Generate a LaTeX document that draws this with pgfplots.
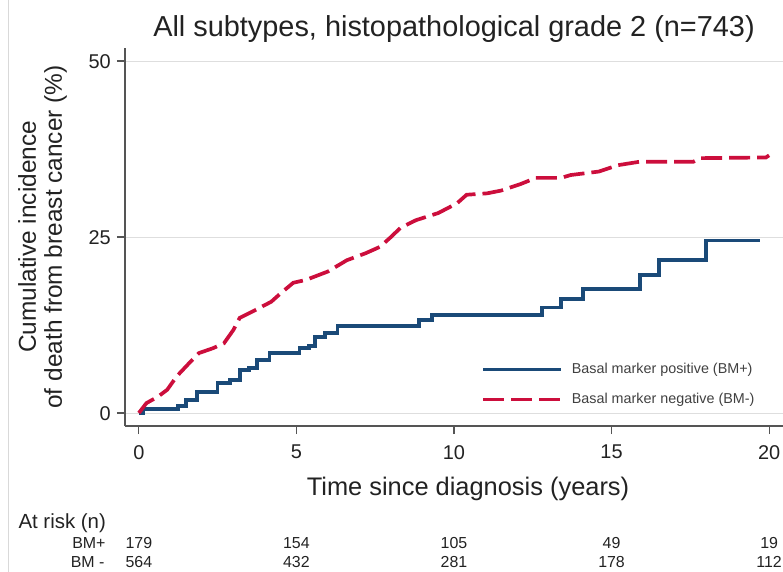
\documentclass[border=0pt]{standalone}
\usepackage{pgfplots}
\pgfplotsset{compat=1.18}
\usepackage{fontspec}
\setmainfont{Liberation Sans}
\definecolor{bmblue}{HTML}{1A4A78}
\definecolor{bmred}{HTML}{CC0E3C}
\definecolor{txt}{HTML}{222222}
\definecolor{axgray}{HTML}{555555}
\begin{document}
\begin{tikzpicture}
\begin{axis}[
  scale only axis,
  width=658bp, height=378bp,
  xmin=-0.44, xmax=20.44,
  ymin=-1.85, ymax=51.85,
  axis x line=bottom, axis y line=left,
  axis line style={-, draw=axgray, line width=1.2bp},
  xtick={0,5,10,15,20}, ytick={0,25,50},
  tick align=outside, major tick length=8bp,
  tick style={draw=axgray, line width=1.2bp},
  ymajorgrids, grid style={draw=black!13, line width=0.9bp},
  /pgf/number format/assume math mode=true,
  ticklabel style={font=\fontsize{20}{24}\selectfont, text=txt},
  xticklabel style={anchor=north, inner sep=0pt, yshift=-11bp},
  yticklabel style={anchor=east, inner sep=0pt, xshift=-6bp, yshift=-1bp},
  clip=false,
  legend cell align=left,
  legend style={draw=none, fill=none, at={(0.541,0.052)}, anchor=south west,
    inner sep=0pt, font=\fontsize{14.4}{16}\selectfont, text=black!75,
    nodes={inner sep=0pt, text height=10bp, text depth=3bp},
    row sep=17bp, column sep=9bp},
  legend image code/.code={\draw[#1] (0bp,0bp) -- (78bp,0bp);},
]
\addplot[const plot, bmblue, line width=3.7bp] coordinates {
(0,0) (0.15,0.6) (1.25,1.0) (1.5,1.8) (1.85,3.0) (2.5,4.3) (2.9,4.7)
(3.2,6.1) (3.5,6.4) (3.75,7.5) (4.15,8.5) (5.1,9.2) (5.4,9.5) (5.6,10.8)
(5.9,11.4) (6.3,12.4) (8.9,13.2) (9.3,13.9) (12.8,15.0) (13.4,16.2)
(14.1,17.6) (15.9,19.6) (16.5,21.7) (18.0,24.5) (19.7,24.5)};
\addlegendentry{Basal marker positive (BM+)}
\addplot[sharp plot, bmred, line width=3.7bp, dash pattern=on 21bp off 7bp] coordinates {
(0,0) (0.24,1.4) (0.6,2.3) (0.9,3.3) (1.2,5.2) (1.6,7.1) (1.9,8.5)
(2.35,9.2) (2.7,9.9) (3.0,11.8) (3.2,13.5) (3.6,14.4) (4.2,15.8)
(4.5,17.0) (4.9,18.5) (5.3,18.9) (6.0,20.1) (6.6,21.7) (7.2,22.7)
(7.65,23.6) (8.0,25.0) (8.3,26.3) (8.8,27.4) (9.5,28.4) (10.1,29.8)
(10.4,31.0) (11.05,31.2) (11.5,31.6) (12.1,32.5) (12.6,33.4) (13.4,33.4)
(13.7,33.8) (14.6,34.3) (15.2,35.2) (15.9,35.7) (17.6,35.7) (17.8,36.2)
(19.9,36.3) (20.0,36.6)};
\addlegendentry{Basal marker negative (BM-)}
% title and labels
\node[anchor=base, font=\fontsize{29}{32}\selectfont, text=txt]
  at ([yshift=11bp]rel axis cs:0.5,1) {All subtypes, histopathological grade 2 (n=743)};
\node[anchor=base, font=\fontsize{25.5}{28}\selectfont, text=txt]
  at ([xshift=14bp,yshift=-69bp]rel axis cs:0.5,0) {Time since diagnosis (years)};
\node[rotate=90, align=center, font=\fontsize{24.5}{26}\selectfont, text=txt]
  at ([xshift=-82.5bp]rel axis cs:0,0.5) {Cumulative incidence\\of death from breast cancer (\%)};
% at risk table
\node[anchor=base west, font=\fontsize{20.5}{22}\selectfont, text=txt]
  at ([xshift=-110bp,yshift=-102bp]rel axis cs:0,0) {At risk (n)};
\node[anchor=base east, font=\fontsize{16}{18}\selectfont, text=txt]
  at ([xshift=-16bp,yshift=-122bp]rel axis cs:0,0) {BM+};
\node[anchor=base east, font=\fontsize{16}{18}\selectfont, text=txt]
  at ([xshift=-17bp,yshift=-141bp]rel axis cs:0,0) {BM -};
\node[anchor=base, font=\fontsize{16}{18}\selectfont, text=txt] at ([yshift=-122bp]axis cs:0,-1.85) {179};
\node[anchor=base, font=\fontsize{16}{18}\selectfont, text=txt] at ([yshift=-122bp]axis cs:5,-1.85) {154};
\node[anchor=base, font=\fontsize{16}{18}\selectfont, text=txt] at ([yshift=-122bp]axis cs:10,-1.85) {105};
\node[anchor=base, font=\fontsize{16}{18}\selectfont, text=txt] at ([yshift=-122bp]axis cs:15,-1.85) {49};
\node[anchor=base, font=\fontsize{16}{18}\selectfont, text=txt] at ([yshift=-122bp]axis cs:20,-1.85) {19};
\node[anchor=base, font=\fontsize{16}{18}\selectfont, text=txt] at ([yshift=-141bp]axis cs:0,-1.85) {564};
\node[anchor=base, font=\fontsize{16}{18}\selectfont, text=txt] at ([yshift=-141bp]axis cs:5,-1.85) {432};
\node[anchor=base, font=\fontsize{16}{18}\selectfont, text=txt] at ([yshift=-141bp]axis cs:10,-1.85) {281};
\node[anchor=base, font=\fontsize{16}{18}\selectfont, text=txt] at ([yshift=-141bp]axis cs:15,-1.85) {178};
\node[anchor=base, font=\fontsize{16}{18}\selectfont, text=txt] at ([yshift=-141bp]axis cs:20,-1.85) {112};
\end{axis}
\draw[black!15, line width=0.8bp] (-117bp,-146bp) -- (-117bp,426bp);
\pgfresetboundingbox
\useasboundingbox (-125bp,-146bp) rectangle (658bp,426bp);
\end{tikzpicture}
\end{document}
